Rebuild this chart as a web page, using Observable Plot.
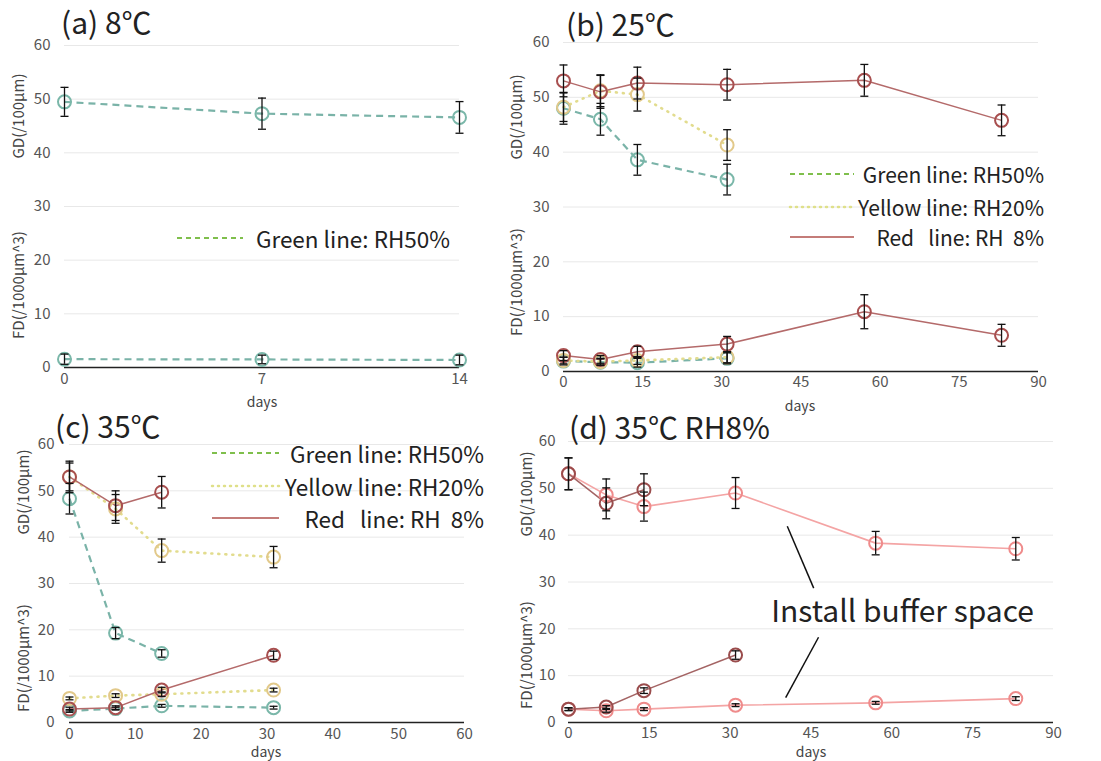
<!DOCTYPE html>
<html>
<head>
<meta charset="utf-8">
<script src="https://cdn.jsdelivr.net/npm/d3@7"></script>
<script src="https://cdn.jsdelivr.net/npm/@observablehq/plot@0.6"></script>
<style>
  html, body { margin: 0; padding: 0; background: #fff; }
  #fig { position: relative; width: 1101px; height: 761px; overflow: hidden; background: #fff;
         font-family: "Noto Sans CJK JP", "Noto Sans", sans-serif; color: #222; }
  .abs { position: absolute; white-space: pre; }
  .title { font-size: 30px; line-height: 30px; color: #222; }
  .ylab { font-size: 15px; color: #444; transform: translate(-50%, -50%) rotate(-90deg); line-height: 15px; }
  .xlab { font-size: 14px; color: #444; transform: translate(-50%, -50%); line-height: 14px; }
  .leg { font-size: 22px; line-height: 22px; color: #222; transform: translateY(-50%); }
  .plot { position: absolute; }
</style>
</head>
<body>
<div id="fig"></div>
<script>
// ---------------- data ----------------
const yTicks = [0, 10, 20, 30, 40, 50, 60];

// (a) 8°C
const aXTicks = [0, 7, 14];
const aDays = [0, 7, 14];
const aGD50 = [49.5, 47.3, 46.6];
const aGD50Err = [2.7, 2.9, 2.95];
const aFD50 = [1.55, 1.5, 1.4];
const aFD50Err = [0.95, 0.8, 0.9];

// (b) 25°C
const bXTicks = [0, 15, 30, 45, 60, 75, 90];
const bDaysShort = [0, 7, 14, 31];
const bDaysLong = [0, 7, 14, 31, 57, 83];
const bGD50 = [48.0, 46.0, 38.6, 35.0];
const bGD50Err = [2.9, 2.9, 2.8, 2.8];
const bGD20 = [48.2, 51.2, 50.5, 41.3];
const bGD20Err = [2.6, 2.9, 3.0, 2.8];
const bGD8 = [53.0, 51.0, 52.6, 52.3, 53.1, 45.8];
const bGD8Err = [2.9, 3.0, 2.9, 2.8, 2.9, 2.8];
const bFD50 = [1.9, 1.7, 1.6, 2.4];
const bFD50Err = [0.7, 0.6, 0.8, 1.0];
const bFD20 = [2.0, 1.8, 2.0, 2.6];
const bFD20Err = [0.6, 0.6, 0.7, 1.0];
const bFD8 = [2.9, 2.2, 3.6, 5.0, 10.9, 6.6];
const bFD8Err = [0.9, 0.7, 1.0, 1.4, 3.1, 2.0];

// (c) 35°C
const cXTicks = [0, 10, 20, 30, 40, 50, 60];
const cDays3 = [0, 7, 14];
const cDays4 = [0, 7, 14, 31];
const cGD50 = [48.3, 19.3, 14.9];
const cGD50Err = [3.3, 1.2, 0.8];
const cGD20 = [53.0, 46.1, 37.1, 35.7];
const cGD20Err = [3.0, 3.1, 2.5, 2.3];
const cGD8 = [53.0, 46.8, 49.7];
const cGD8Err = [3.4, 3.2, 3.4];
const cFD50 = [2.5, 3.0, 3.6, 3.2];
const cFD50Err = [0.3, 0.3, 0.3, 0.3];
const cFD20 = [5.2, 5.8, 6.1, 7.0];
const cFD20Err = [0.3, 0.4, 0.5, 0.4];
const cFD8 = [2.9, 3.2, 7.0, 14.5];
const cFD8Err = [0.4, 0.4, 0.6, 0.9];

// (d) 35°C RH8%
const dXTicks = [0, 15, 30, 45, 60, 75, 90];
const dDaysNoBuf3 = [0, 7, 14];
const dDaysNoBuf4 = [0, 7, 14, 31];
const dDaysBuf = [0, 7, 14, 31, 57, 83];
const dGDNoBuf = [53.1, 46.8, 49.7];
const dGDNoBufErr = [3.4, 3.3, 3.4];
const dFDNoBuf = [2.85, 3.3, 6.8, 14.4];
const dFDNoBufErr = [0.3, 0.3, 0.6, 0.9];
const dGDBuf = [53.1, 48.6, 46.1, 49.0, 38.3, 37.1];
const dGDBufErr = [3.4, 3.4, 3.1, 3.3, 2.5, 2.4];
const dFDBuf = [2.85, 2.5, 2.85, 3.7, 4.2, 5.1];
const dFDBufErr = [0.3, 0.3, 0.3, 0.3, 0.3, 0.4];
const dNoteLines = [
  {x1: 40.6, y1: 41.9, x2: 45.5, y2: 28.7},
  {x1: 46.4, y1: 18.2, x2: 40.3, y2: 5.3}
];
const dNoteText = [{day: 62, value: 23.5, text: "Install buffer space"}];

// ---------------- helpers ----------------
function rows(days, vals, errs, metric) {
  return days.map((d, i) => ({day: d, value: vals[i], lo: vals[i] - errs[i], hi: vals[i] + errs[i], metric}));
}
const capSymbol = {
  draw(ctx, size) {
    const w = Math.sqrt(size / Math.PI);
    ctx.moveTo(-w, 0);
    ctx.lineTo(w, 0);
  }
};
const STY = {
  green:  {dot: "#7ab7a9", line: "#7ab3a8", lw: 2.2, dash: "7,5", cap: "butt"},
  yellow: {dot: "#e2c98a", line: "#e2dc8e", lw: 2.6, dash: "1,6", cap: "round"},
  red:    {dot: "#a84f4f", line: "#b46a6a", lw: 1.5, dash: null, cap: "butt"},
  dark:   {dot: "#9a4c4c", line: "#a46464", lw: 1.5, dash: null, cap: "butt"},
  pink:   {dot: "#ef8b8b", line: "#f4a4a4", lw: 1.6, dash: null, cap: "butt"}
};

function makePanel(cfg) {
  const marks = [
    Plot.gridY(yTicks, {stroke: "#e8e8e8", strokeOpacity: 1}),
    Plot.axisY({ticks: yTicks, tickSize: 0, tickPadding: cfg.yPad, fontSize: 15, fill: "#555", label: null}),
    Plot.axisX({ticks: cfg.xTicks, tickSize: 0, tickPadding: cfg.xPad, fontSize: 15, fill: "#555", label: null}),
    Plot.ruleY([0], {stroke: "#222", strokeWidth: 1.6})
  ];
  for (const s of cfg.series) {
    const st = STY[s.style];
    marks.push(Plot.line(s.rows, {x: "day", y: "value", z: "metric", stroke: st.line, strokeWidth: st.lw,
      strokeDasharray: st.dash, strokeLinecap: st.cap}));
  }
  for (const s of cfg.series) {
    const st = STY[s.style];
    marks.push(Plot.dot(s.rows, {x: "day", y: "value", r: 6.5, stroke: st.dot, strokeWidth: 2, fill: "none"}));
  }
  for (const s of cfg.series) {
    marks.push(Plot.ruleX(s.rows, {x: "day", y1: "lo", y2: "hi", stroke: "#111", strokeWidth: 1.3}));
    marks.push(Plot.dot(s.rows, {x: "day", y: "lo", symbol: capSymbol, r: 4, stroke: "#111", strokeWidth: 1.3}));
    marks.push(Plot.dot(s.rows, {x: "day", y: "hi", symbol: capSymbol, r: 4, stroke: "#111", strokeWidth: 1.3}));
  }
  if (cfg.extra) marks.push(...cfg.extra);
  const svg = Plot.plot({
    width: cfg.width, height: cfg.height,
    marginLeft: cfg.mL, marginRight: cfg.mR, marginTop: cfg.mT, marginBottom: cfg.mB,
    x: {domain: cfg.xDomain}, y: {domain: [0, 60]},
    style: {fontFamily: '"Noto Sans CJK JP", "Noto Sans", sans-serif', background: "transparent", overflow: "visible"},
    marks
  });
  svg.classList.add("plot");
  svg.style.left = cfg.left + "px";
  svg.style.top = cfg.top + "px";
  document.getElementById("fig").appendChild(svg);
}

function addText(cls, text, x, y, extra) {
  const el = document.createElement("div");
  el.className = "abs " + cls;
  el.textContent = text;
  el.style.left = x + "px";
  el.style.top = y + "px";
  if (extra) Object.assign(el.style, extra);
  document.getElementById("fig").appendChild(el);
  return el;
}
function addLegend(items, x1, x2, textRight, fontSize) {
  const fig = document.getElementById("fig");
  for (const it of items) {
    const s = document.createElementNS("http://www.w3.org/2000/svg", "svg");
    s.setAttribute("width", x2 - x1 + 4);
    s.setAttribute("height", 8);
    s.style.position = "absolute";
    s.style.left = (x1 - 2) + "px";
    s.style.top = (it.y - 4) + "px";
    const l = document.createElementNS("http://www.w3.org/2000/svg", "line");
    l.setAttribute("x1", 2); l.setAttribute("x2", x2 - x1 + 2);
    l.setAttribute("y1", 4); l.setAttribute("y2", 4);
    l.setAttribute("stroke", it.color);
    l.setAttribute("stroke-width", it.w);
    if (it.dash) l.setAttribute("stroke-dasharray", it.dash);
    if (it.cap) l.setAttribute("stroke-linecap", it.cap);
    s.appendChild(l);
    fig.appendChild(s);
    const t = addText("leg", it.text, 0, it.y, {fontSize: fontSize + "px"});
    t.style.left = "auto";
    t.style.right = (1101 - textRight) + "px";
  }
}
const LEG = {
  green: {color: "#7fbf4c", w: 2, dash: "5,4", text: "Green line: RH50%"},
  yellow: {color: "#dfe08a", w: 2.5, dash: "1,5", cap: "round", text: "Yellow line: RH20%"},
  red: {color: "#b0504c", w: 1.6, dash: null, text: " Red   line: RH  8%"}
};

// ---------------- panels ----------------
makePanel({
  left: 0, top: 0, width: 520, height: 400, mL: 64, mR: 61, mT: 45, mB: 33,
  xDomain: [0, 14], xTicks: aXTicks, yPad: 14, xPad: 6,
  series: [
    {style: "green", rows: [...rows(aDays, aGD50, aGD50Err, "GD"), ...rows(aDays, aFD50, aFD50Err, "FD")]}
  ]
});
makePanel({
  left: 500, top: 0, width: 600, height: 400, mL: 63, mR: 62, mT: 42, mB: 29,
  xDomain: [0, 90], xTicks: bXTicks, yPad: 14, xPad: 5,
  series: [
    {style: "green", rows: [...rows(bDaysShort, bGD50, bGD50Err, "GD"), ...rows(bDaysShort, bFD50, bFD50Err, "FD")]},
    {style: "yellow", rows: [...rows(bDaysShort, bGD20, bGD20Err, "GD"), ...rows(bDaysShort, bFD20, bFD20Err, "FD")]},
    {style: "red", rows: [...rows(bDaysLong, bGD8, bGD8Err, "GD"), ...rows(bDaysLong, bFD8, bFD8Err, "FD")]}
  ]
});
makePanel({
  left: 0, top: 400, width: 520, height: 361, mL: 69, mR: 56, mT: 44, mB: 39,
  xDomain: [0, 60], xTicks: cXTicks, yPad: 15, xPad: 6,
  series: [
    {style: "green", rows: [...rows(cDays3, cGD50, cGD50Err, "GD"), ...rows(cDays4, cFD50, cFD50Err, "FD")]},
    {style: "yellow", rows: [...rows(cDays4, cGD20, cGD20Err, "GD"), ...rows(cDays4, cFD20, cFD20Err, "FD")]},
    {style: "red", rows: [...rows(cDays3, cGD8, cGD8Err, "GD"), ...rows(cDays4, cFD8, cFD8Err, "FD")]}
  ]
});
makePanel({
  left: 500, top: 400, width: 600, height: 361, mL: 68, mR: 47, mT: 41, mB: 39,
  xDomain: [0, 90], xTicks: dXTicks, yPad: 13, xPad: 5,
  series: [
    {style: "pink", rows: [...rows(dDaysBuf, dGDBuf, dGDBufErr, "GD"), ...rows(dDaysBuf, dFDBuf, dFDBufErr, "FD")]},
    {style: "dark", rows: [...rows(dDaysNoBuf3, dGDNoBuf, dGDNoBufErr, "GD"), ...rows(dDaysNoBuf4, dFDNoBuf, dFDNoBufErr, "FD")]}
  ],
  extra: [
    Plot.link(dNoteLines, {x1: "x1", y1: "y1", x2: "x2", y2: "y2", stroke: "#111", strokeWidth: 1.5}),
    Plot.text(dNoteText, {x: "day", y: "value", text: "text", fontSize: 30, fill: "#222"})
  ]
});

// ---------------- titles, axis titles, legends ----------------
addText("title", "(a) 8℃", 61, 6);
addText("title", "(b) 25℃", 566, 8);
addText("title", "(c) 35℃", 55, 410);
addText("title", "(d) 35℃ RH8%", 569, 411);

addText("ylab", "GD(/100μm)", 17, 116);
addText("ylab", "FD(/1000μm^3)", 17, 285);
addText("ylab", "GD(/100μm)", 515, 117);
addText("ylab", "FD(/1000μm^3)", 515, 282);
addText("ylab", "GD(/100μm)", 22, 492);
addText("ylab", "FD(/1000μm^3)", 22, 658);
addText("ylab", "GD(/100μm)", 525, 494);
addText("ylab", "FD(/1000μm^3)", 525, 655);

addText("xlab", "days", 262, 401);
addText("xlab", "days", 800, 405);
addText("xlab", "days", 266, 751);
addText("xlab", "days", 811, 751);

addLegend([{...LEG.green, y: 238}], 177, 243, 450, 22.5);
addLegend([{...LEG.green, y: 174}, {...LEG.yellow, y: 207}, {...LEG.red, y: 237}], 790, 854, 1044, 21);
addLegend([{...LEG.green, y: 453}, {...LEG.yellow, y: 486}, {...LEG.red, y: 518}], 212, 279, 484, 22.5);
</script>
</body>
</html>
